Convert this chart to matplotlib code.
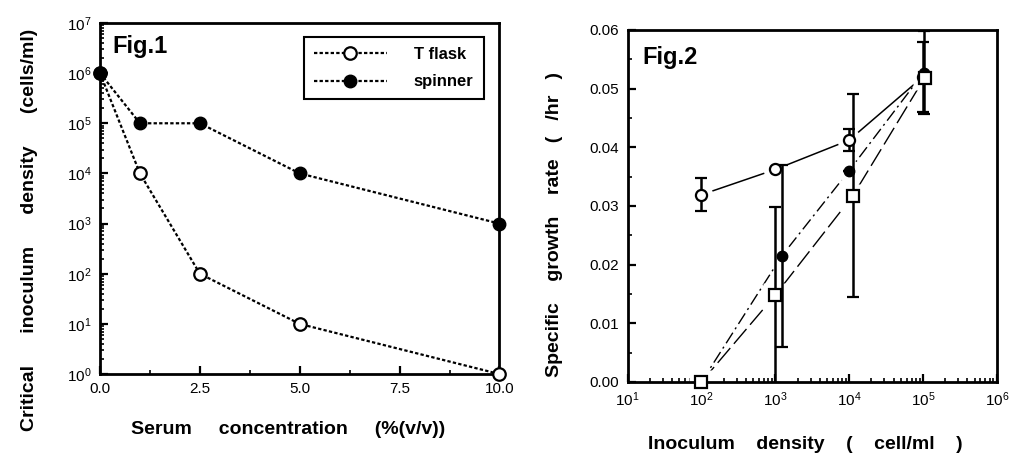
import matplotlib.pyplot as plt
import numpy as np

# Fig.1 data
serum = [0.0, 1.0, 2.5, 5.0, 10.0]
tflask = [1e6, 1e4, 1e2, 1e1, 1e0]
spinner = [1e6, 1e5, 1e5, 1e4, 1e3]

# Fig.2 data
circ_x = [1e2, 1e3, 1e4, 1e5]
circ_y = [0.0319, 0.0362, 0.0412, 0.0520]
circ_err = [0.0028, 0.0, 0.0019, 0.0060]

fill_x = [1e2, 1.23e3, 1e4, 1.02e5]
fill_y = [0.0, 0.0215, 0.0360, 0.0527]
fill_err = [0.0, 0.0155, 0.0, 0.0071]

sq_x = [1e2, 1e3, 1.12e4, 1.05e5]
sq_y = [0.0, 0.0148, 0.0317, 0.0518]
sq_err = [0.0, 0.0150, 0.0173, 0.0]

plt.rcParams['font.family'] = ['Liberation Sans', 'DejaVu Sans']
lab = dict(fontsize=14, fontweight='bold')

fig = plt.figure(figsize=(10.14, 4.59), dpi=100)
ax1 = fig.add_axes([0.0986, 0.185, 0.394, 0.765])
ax2 = fig.add_axes([0.619, 0.168, 0.364, 0.767])

# ---- Fig.1 ----
ax1.plot(serum, tflask, linestyle=(0, (1.5, 1)), color='black', lw=1.6,
         marker='o', ms=9, mfc='white', mec='black', mew=1.6, label='T flask',
         clip_on=False, zorder=3)
ax1.plot(serum, spinner, linestyle=(0, (1.5, 1)), color='black', lw=1.6,
         marker='o', ms=9, mfc='black', mec='black', label='spinner',
         clip_on=False, zorder=3)
ax1.set_yscale('log')
ax1.set_xlim(0, 10)
ax1.set_ylim(1, 1e7)
ax1.set_xticks([0, 2.5, 5, 7.5, 10])
ax1.set_xticks([1.25, 3.75, 6.25, 8.75], minor=True)
ax1.set_xticklabels(['0.0', '2.5', '5.0', '7.5', '10.0'])
ax1.set_yticks([10.0**k for k in range(8)])
ax1.set_xlabel('Serum     concentration     (%(v/v))', **lab)
ax1.set_ylabel('Critical      inoculum      density      (cells/ml)', **lab)
ax1.xaxis.set_label_coords(0.47, -0.134)
ax1.yaxis.set_label_coords(-0.155, 0.41)
ax1.text(0.03, 0.965, 'Fig.1', transform=ax1.transAxes, fontsize=17,
         fontweight='bold', va='top', ha='left')
leg = ax1.legend(loc='upper right', bbox_to_anchor=(0.96, 0.96),
                 borderaxespad=0,
                 prop={'weight': 'bold', 'size': 12}, fancybox=False,
                 edgecolor='black', framealpha=1, handlelength=4.4,
                 borderpad=0.6, labelspacing=0.75, handletextpad=1.6)
leg.get_frame().set_linewidth(1.5)

# ---- Fig.2 ----
ax2.plot(circ_x, circ_y, '-', color='black', lw=1.1, zorder=1)
ax2.plot(fill_x, fill_y, color='black', lw=1.0, dashes=(9, 3, 1.5, 3), zorder=1)
ax2.plot(sq_x, sq_y, color='black', lw=1.0, dashes=(14, 4), zorder=1)
# white halos so the connecting lines stop short of the symbols
for xs, ys, m in [(circ_x, circ_y, 'o'), (fill_x, fill_y, 'o'), (sq_x, sq_y, 's')]:
    ax2.plot(xs, ys, m, ms=17, mfc='white', mec='none', zorder=2)
for xs, ys, es in [(circ_x, circ_y, circ_err), (fill_x, fill_y, fill_err),
                   (sq_x, sq_y, sq_err)]:
    ax2.errorbar(xs, ys, yerr=es, fmt='none', ecolor='black', elinewidth=1.8,
                 capsize=4, capthick=1.6, zorder=3)
ax2.plot(fill_x, fill_y, 'o', ms=7.5, mfc='black', mec='black', zorder=4,
         clip_on=False)
ax2.plot(circ_x, circ_y, 'o', ms=8, mfc='white', mec='black', mew=1.6,
         zorder=5, clip_on=False)
ax2.plot(sq_x, sq_y, 's', ms=8, mfc='white', mec='black', mew=1.6,
         zorder=6, clip_on=False)
ax2.set_xscale('log')
ax2.set_xlim(10, 1e6)
ax2.set_ylim(0, 0.06)
ax2.set_xticks([10.0**k for k in range(1, 7)])
ax2.set_yticks(np.arange(0, 0.061, 0.01))
ax2.set_yticks(np.arange(0.005, 0.06, 0.01), minor=True)
ax2.set_yticklabels(['0.00', '0.01', '0.02', '0.03', '0.04', '0.05', '0.06'])
ax2.set_xlabel('Inoculum    density    (    cell/ml    )', **lab)
ax2.set_ylabel('Specific    growth    rate   (   /hr   )', **lab)
ax2.xaxis.set_label_coords(0.48, -0.153)
ax2.yaxis.set_label_coords(-0.176, 0.446)
ax2.text(0.04, 0.955, 'Fig.2', transform=ax2.transAxes, fontsize=17,
         fontweight='bold', va='top', ha='left')

for ax in (ax1, ax2):
    for s in ax.spines.values():
        s.set_linewidth(2)
    ax.tick_params(which='major', direction='in', length=6, width=1.6,
                   labelsize=11, pad=6)
    ax.tick_params(which='minor', direction='in', length=3, width=1.2)

fig.savefig('out.png', dpi=100)
